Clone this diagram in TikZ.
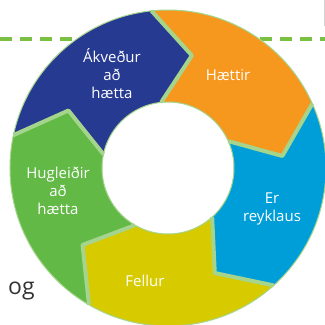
\documentclass[tikz,border=0pt]{standalone}
\usepackage{fontspec}
\setmainfont{Open Sans}
\definecolor{ringblue}{HTML}{263A92}
\definecolor{ringorange}{HTML}{F6981E}
\definecolor{ringcyan}{HTML}{009ED9}
\definecolor{ringyellow}{HTML}{D7CB00}
\definecolor{ringgreen}{HTML}{62B946}
\definecolor{sepgreen}{HTML}{A5D48C}
\definecolor{dashgreen}{HTML}{7AC143}
\definecolor{oggray}{HTML}{333333}
\begin{document}
\begin{tikzpicture}[x=1pt,y=1pt,line join=round,
    sep/.style={draw=sepgreen,line width=4pt},
    lbl/.style={text=white,align=center,font=\fontsize{15}{18}\selectfont}]
  \useasboundingbox (-168,-157) rectangle (157,168);
  \draw[dashgreen,line width=4pt,dash pattern=on 12pt off 8pt] (-168,129) -- (157,129);
  \draw[gray!35,line width=.6pt] (156,168) -- (156,142);
  % the five arrows of the ring
  \fill[ringblue] (168:158pt) arc (168:96:158pt) -- (78:115pt) -- (96:66pt)
        arc (96:168:66pt) -- (150:115pt) -- cycle;
  \fill[ringorange] (96:158pt) arc (96:24:158pt) -- (6:115pt) -- (24:66pt)
        arc (24:96:66pt) -- (78:115pt) -- cycle;
  \fill[ringcyan] (24:158pt) arc (24:-48:158pt) -- (-66:115pt) -- (-48:66pt)
        arc (-48:24:66pt) -- (6:115pt) -- cycle;
  \fill[ringyellow] (-48:158pt) arc (-48:-120:158pt) -- (-138:115pt) -- (-120:66pt)
        arc (-120:-48:66pt) -- (-66:115pt) -- cycle;
  \fill[ringgreen] (-120:158pt) arc (-120:-192:158pt) -- (-210:115pt) -- (-192:66pt)
        arc (-192:-120:66pt) -- (-138:115pt) -- cycle;
  \draw[sep] (96:158pt) -- (78:115pt) -- (96:66pt);
  \draw[sep] (24:158pt) -- (6:115pt) -- (24:66pt);
  \draw[sep] (-48:158pt) -- (-66:115pt) -- (-48:66pt);
  \draw[sep] (-120:158pt) -- (-138:115pt) -- (-120:66pt);
  \draw[sep] (168:158pt) -- (150:115pt) -- (168:66pt);
  \draw[sepgreen,line width=1pt] (0,0) circle[radius=158pt];
  \draw[sepgreen,line width=1pt] (0,0) circle[radius=66pt];
  \node[lbl] (akv) at (-56,94) {Ákveður\\að\\hætta};
  \node[lbl] (haet) at (60,93) {Hættir};
  \node[lbl] (reyk) at (104,-41) {Er\\reyklaus};
  \node[lbl] (fell) at (-23,-113) {Fellur};
  \node[lbl] (hugl) at (-110,-23) {Hugleiðir\\að\\hætta};
  \node[text=oggray,font=\fontsize{23}{27}\selectfont,anchor=base west,inner sep=0pt]
    (og) at (-160,-126) {og};
\end{tikzpicture}
\end{document}
